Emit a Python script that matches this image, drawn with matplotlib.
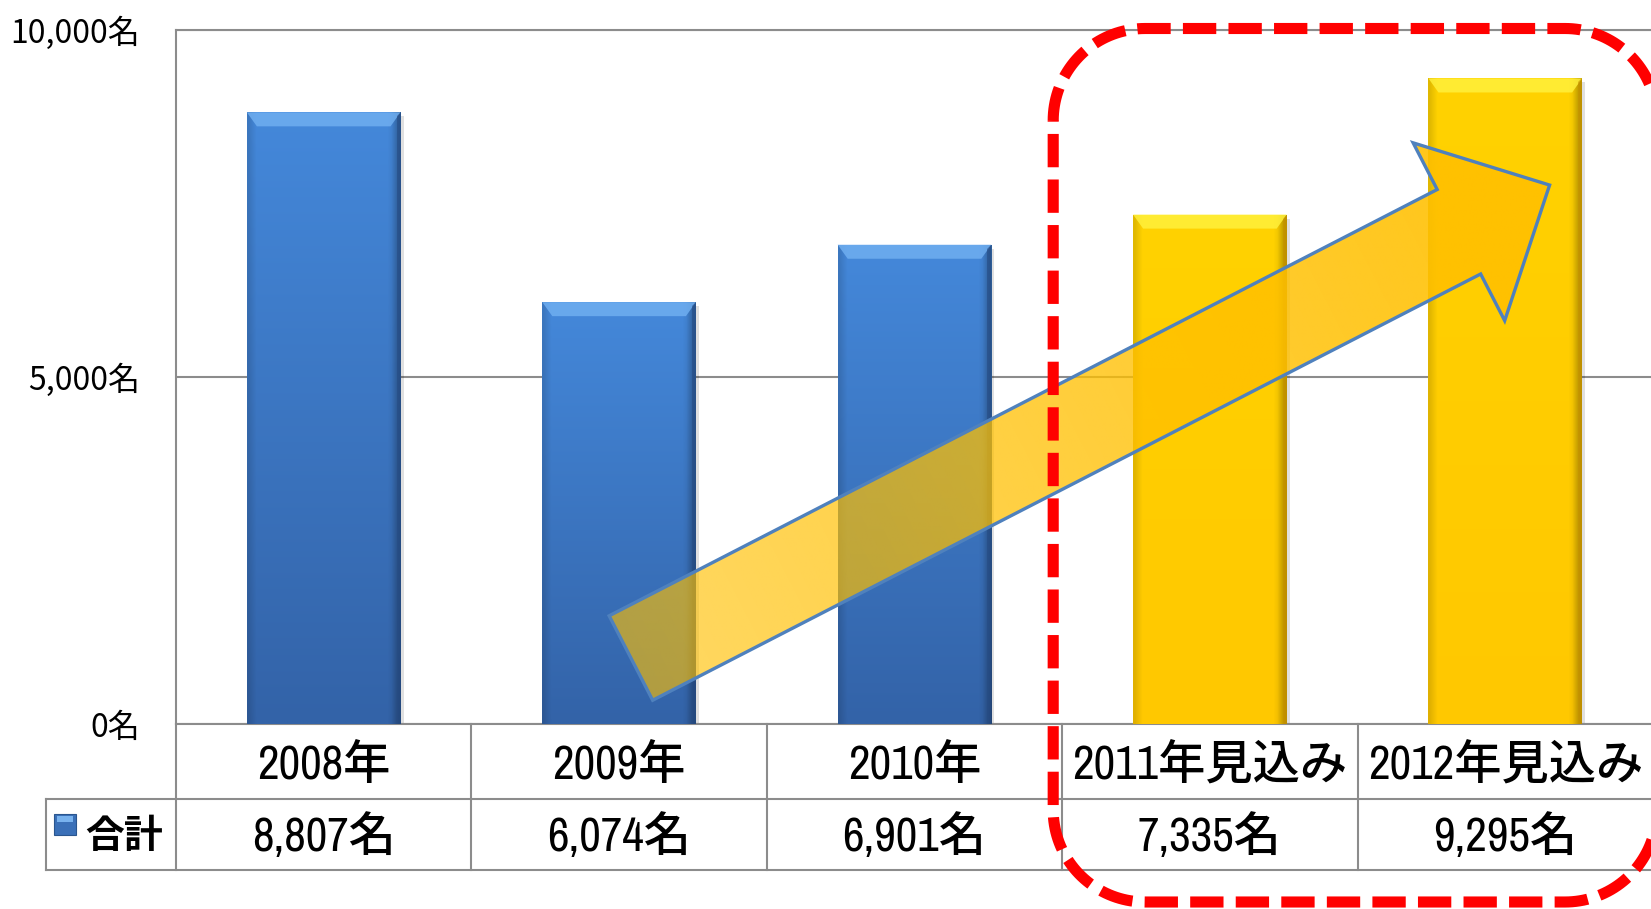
import numpy as np
import matplotlib
matplotlib.use('Agg')
import matplotlib.pyplot as plt
from matplotlib.patches import Polygon, Rectangle
from matplotlib.colors import to_rgb

plt.rcParams['font.family'] = ['Noto Sans CJK JP', 'DejaVu Sans']

# 合計人数（2011年・2012年は見込み）
years = ['2008年', '2009年', '2010年', '2011年見込み', '2012年見込み']
totals = [8807, 6074, 6901, 7335, 9295]
forecast = [False, False, False, True, True]
yticks = [0, 5000, 10000]
row_label = '合計'

W, H = 1651, 909
fig = plt.figure(figsize=(W / 100, H / 100), dpi=100)
ax = fig.add_axes([176 / W, 1 - 724 / H, 1477 / W, 694.5 / H])

blue = dict(top='#4488DA', bottom='#3363A8', bevel='#6FAEF0', edge='#264C85')
gold = dict(top='#FFD200', bottom='#FFC800', bevel='#FFF03C', edge='#C89200')

x = np.arange(len(years))
ax.set_xlim(-0.5, len(years) - 0.5)
ax.set_ylim(0, 10000)
xpp = len(years) / 1477      # data units per pixel
ypp = 10000 / 694.5


def bar_image(pal, n=80, m=40):
    t = np.linspace(0, 1, n)[:, None]
    col = np.array(to_rgb(pal['top'])) * (1 - t) + np.array(to_rgb(pal['bottom'])) * t
    img = np.repeat(col[:, None, :], m, axis=1)
    s = np.linspace(0, 1, m)
    shade = 1 - 0.12 * np.clip(1 - s / 0.05, 0, 1) - 0.30 * np.clip((s - 0.94) / 0.06, 0, 1)
    return np.clip(img * shade[None, :, None], 0, 1)


bars = ax.bar(x, totals, width=0.52, color=[(gold if f else blue)['bottom'] for f in forecast],
              linewidth=0, zorder=2)
for rect, f in zip(bars, forecast):
    pal = gold if f else blue
    x0, w, h = rect.get_x(), rect.get_width(), rect.get_height()
    # soft shadow
    ax.add_patch(Rectangle((x0 + 3 * xpp, -4 * ypp), w, h, fc='#000000', alpha=0.12, lw=0, zorder=1.5))
    im = ax.imshow(bar_image(pal), extent=[x0, x0 + w, 0, h], aspect='auto',
                   interpolation='bilinear', zorder=3)
    im.set_clip_path(rect)
    bx, by = 10 * xpp, 14 * ypp
    ax.add_patch(Polygon([(x0, h), (x0 + w, h), (x0 + w - bx, h - by), (x0 + bx, h - by)],
                         closed=True, fc=pal['bevel'], ec='none', alpha=0.85, zorder=4))
    ax.add_patch(Polygon([(x0 + w, h), (x0 + w, 0), (x0 + w - 4 * xpp, 0), (x0 + w - 4 * xpp, h - 4 * ypp)],
                         closed=True, fc=pal['edge'], ec='none', alpha=0.6, zorder=4))

ax.set_xlim(-0.5, len(years) - 0.5)
ax.set_ylim(0, 10000)
ax.set_xticks([])
ax.set_yticks(yticks)
ax.set_yticklabels([f'{v:,}名' for v in yticks], fontsize=23)
ax.tick_params(axis='y', length=0, pad=26)
ax.yaxis.grid(True, color='#8C8C8C', lw=1.5)
ax.set_axisbelow(True)
for side in ['left', 'top', 'bottom']:
    ax.spines[side].set_color('#8C8C8C')
    ax.spines[side].set_linewidth(1.5)
ax.spines['right'].set_visible(False)


def to_px(xv, yv):
    px, py = ax.transData.transform((xv, yv))
    return px, H - py


# overlay in pixel units for table, highlight box and arrow
ov = fig.add_axes([0, 0, 1, 1])
ov.set_xlim(0, W)
ov.set_ylim(H, 0)
ov.axis('off')
ov.patch.set_alpha(0)

grey = '#8C8C8C'
edges = [to_px(i - 0.5, 0)[0] for i in range(len(years) + 1)]
y_axis = to_px(0, 0)[1]
r1, r2 = y_axis + 75, y_axis + 146
leg_left = 46
ov.plot([leg_left, W + 5], [r1, r1], color=grey, lw=1.5)
ov.plot([leg_left, W + 5], [r2, r2], color=grey, lw=1.5)
ov.plot([leg_left, leg_left], [r1, r2], color=grey, lw=1.5)
for e in edges:
    ov.plot([e, e], [y_axis, r2], color=grey, lw=1.5)

tfam = ['Archivo Narrow', 'Noto Sans CJK JP']
for i, (yr, v) in enumerate(zip(years, totals)):
    cx = (edges[i] + edges[i + 1]) / 2
    ov.text(cx, (y_axis + r1) / 2 + 4, yr, ha='center', va='center', fontsize=34,
            family=tfam, fontweight='medium')
    ov.text(cx, (r1 + r2) / 2 + 2, f'{v:,}名', ha='center', va='center', fontsize=34,
            family=tfam, fontweight='medium')

# legend key + row label
ov.add_patch(Rectangle((54, 814), 22, 21, fc='#3A70B8', ec='#2A568F', lw=0.8))
ov.add_patch(Rectangle((57, 816), 16, 6, fc='#78B2EE', ec='none'))
ov.text(124, (r1 + r2) / 2 + 2, row_label, ha='center', va='center', fontsize=28, fontweight='bold')

# dashed rounded box around the forecast years
bl = edges[3] - 9
bt = to_px(0, 10000)[1] - 1
br, bb, rad = W + 6, 902, 92
arc = lambda cx, cy, a0, a1: [(cx + rad * np.cos(a), cy + rad * np.sin(a))
                              for a in np.linspace(a0, a1, 40)]
outline = (arc(bl + rad, bt + rad, np.pi, 1.5 * np.pi) +
           arc(br - rad, bt + rad, 1.5 * np.pi, 2 * np.pi) +
           arc(br - rad, bb - rad, 0, 0.5 * np.pi) +
           arc(bl + rad, bb - rad, 0.5 * np.pi, np.pi))
ov.add_patch(Polygon(outline, closed=True, fill=False, ec='#FF0000', lw=8,
                     linestyle=(0, (3.0, 1.1)), zorder=6))

# trend arrow
tail = np.array(to_px(1.04, 950))
tip = np.array(to_px(4.15, 7760))
shaft_w, head_w, head_l = 95, 200, 102
L = np.linalg.norm(tip - tail)
u = (tip - tail) / L
n = np.array([u[1], -u[0]])
neck = tip - u * head_l
pts = [tail + n * shaft_w / 2, neck + n * shaft_w / 2, neck + n * head_w / 2, tip,
       neck - n * head_w / 2, neck - n * shaft_w / 2, tail - n * shaft_w / 2]
arrow = Polygon(pts, closed=True, fill=False, ec='#4F81BD', lw=2.4, zorder=5, joinstyle='miter')
ov.add_patch(arrow)

xs_ = np.array([p[0] for p in pts])
ys_ = np.array([p[1] for p in pts])
gx = np.linspace(xs_.min(), xs_.max(), 200)
gy = np.linspace(ys_.min(), ys_.max(), 200)
GX, GY = np.meshgrid(gx, gy)
proj = np.clip(((GX - tail[0]) * u[0] + (GY - tail[1]) * u[1]) / L, 0, 1)
rgba = np.zeros(GX.shape + (4,))
rgba[..., :3] = to_rgb('#FFC000')
rgba[..., 3] = 0.62 + 0.3 * proj
fill = ov.imshow(rgba, extent=[gx[0], gx[-1], gy[-1], gy[0]], origin='upper',
                 aspect='auto', interpolation='bilinear', zorder=4)
fill.set_clip_path(arrow)
ov.set_xlim(0, W)
ov.set_ylim(H, 0)

fig.savefig('out.png', dpi=100)
